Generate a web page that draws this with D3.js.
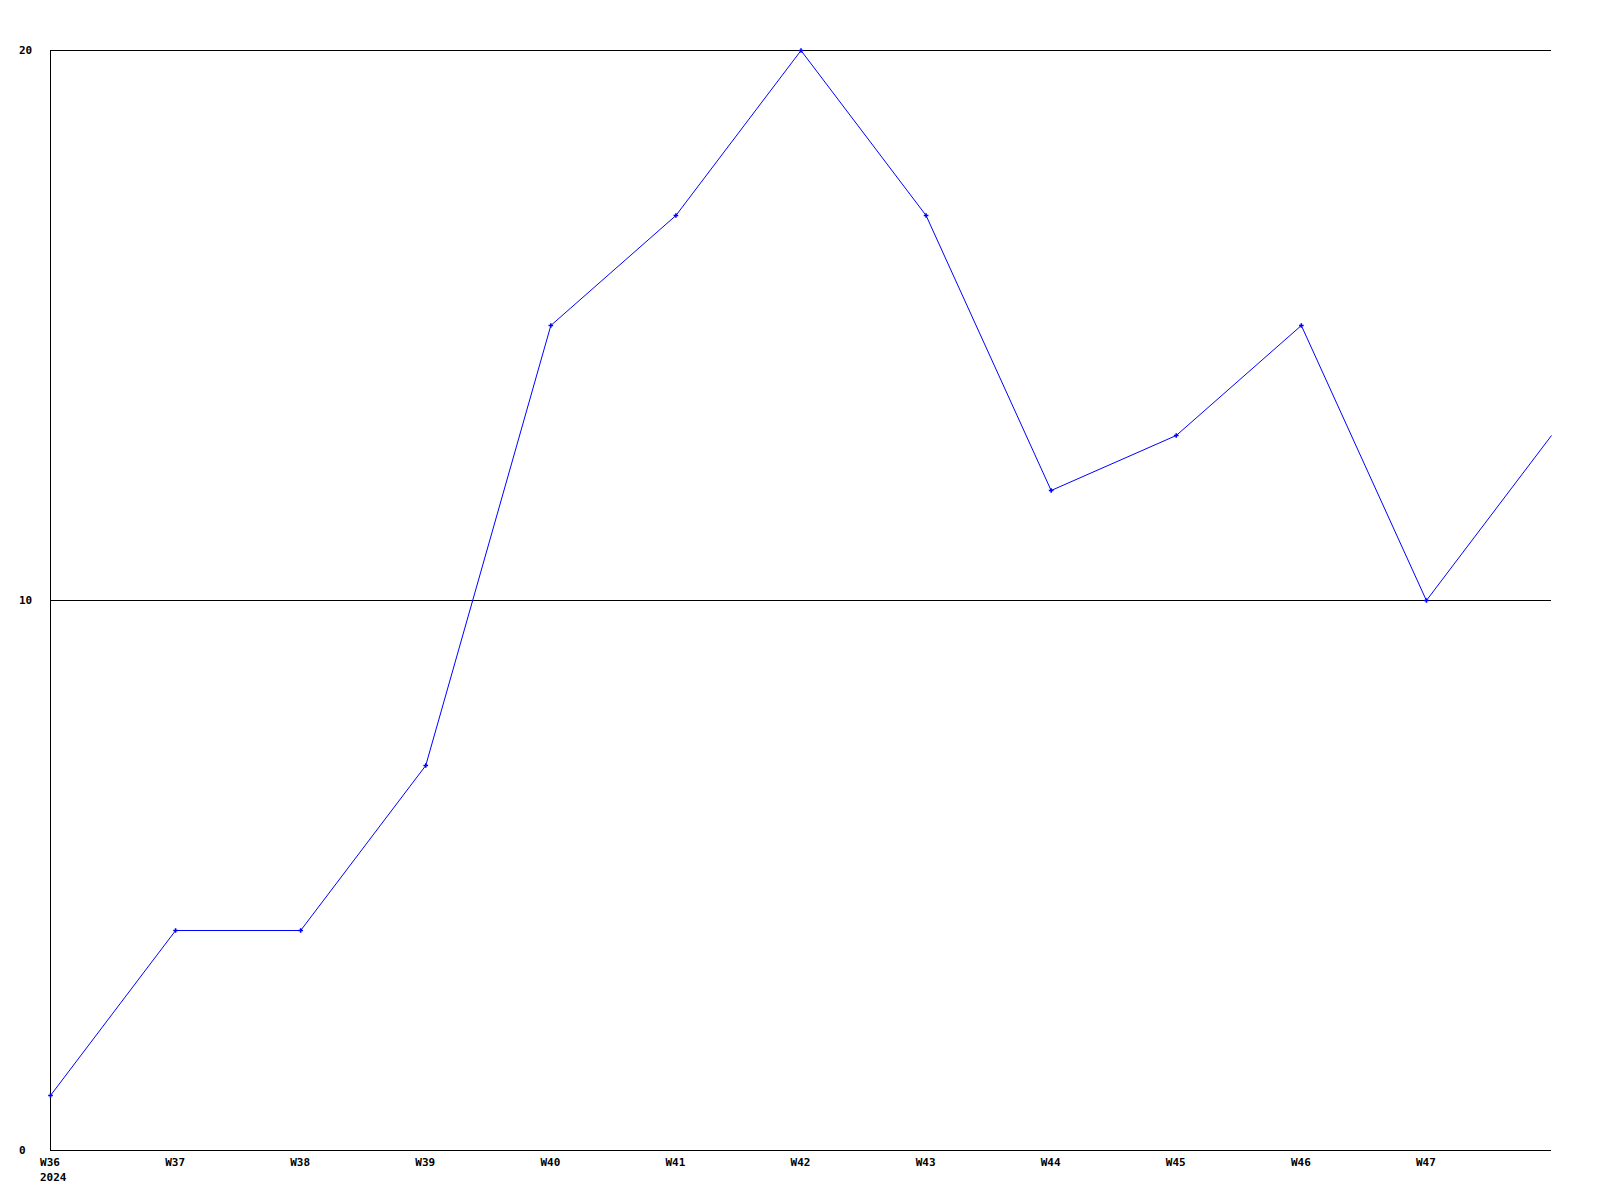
<!DOCTYPE html>
<html><head><meta charset="utf-8">
<script src="https://cdn.jsdelivr.net/npm/d3@7"></script>
<style>body{margin:0;background:#fff}svg{display:block}text{font-family:"DejaVu Sans Mono",monospace;font-weight:bold;font-size:11px;fill:#000}</style>
</head><body>
<svg id="c" width="1600" height="1200"></svg>
<script>
const weeks = ["W36","W37","W38","W39","W40","W41","W42","W43","W44","W45","W46","W47","W48"];
const values = [1,4,4,7,15,17,20,17,12,13,15,10,13];
const xTickLabels = ["W36","W37","W38","W39","W40","W41","W42","W43","W44","W45","W46","W47"];
const yTicks = [0,10,20];
const yearLabel = "2024";

const svg = d3.select("#c");
const pL = 50, pR = 1551, pT = 50, pB = 1150;
const x = d3.scalePoint().domain(weeks).range([pL, pR]);
const y = d3.scaleLinear().domain([0, 20]).range([pB, pT]);

// grid lines
svg.selectAll("line.grid").data(yTicks.filter(d => d > 0)).join("line")
  .attr("x1", pL).attr("x2", pR).attr("y1", d => Math.round(y(d)) + 0.5).attr("y2", d => Math.round(y(d)) + 0.5)
  .attr("stroke", "#000").attr("stroke-width", 1);
// axes lines
svg.append("line").attr("x1", pL + 0.5).attr("x2", pL + 0.5).attr("y1", pT).attr("y2", pB + 0.5).attr("stroke", "#000");
svg.append("line").attr("x1", pL).attr("x2", pR).attr("y1", pB + 0.5).attr("y2", pB + 0.5).attr("stroke", "#000");

// y labels
svg.selectAll("text.yl").data(yTicks).join("text")
  .attr("x", 19).attr("y", d => y(d) + 4).attr("text-anchor", "start").text(d => d);
// x labels
svg.selectAll("text.xl").data(xTickLabels).join("text")
  .attr("x", d => x(d)).attr("y", 1166).attr("text-anchor", "middle").text(d => d);
svg.append("text").attr("x", x(weeks[0]) - 10).attr("y", 1181).text(yearLabel);

// line
const line = d3.line().x((d, i) => x(weeks[i]) + 0.5).y(d => y(d) + 0.5);
svg.append("path").datum(values).attr("d", line).attr("fill", "none").attr("stroke", "#0000ff").attr("stroke-width", 1);
// markers
svg.selectAll("path.m").data(values.slice(0, values.length - 1)).join("path")
  .attr("transform", (d, i) => `translate(${x(weeks[i]) + 0.5},${y(d) + 0.5})`)
  .attr("d", d3.symbol(d3.symbolCross, 12)).attr("fill", "#0000ff");
</script>
</body></html>
